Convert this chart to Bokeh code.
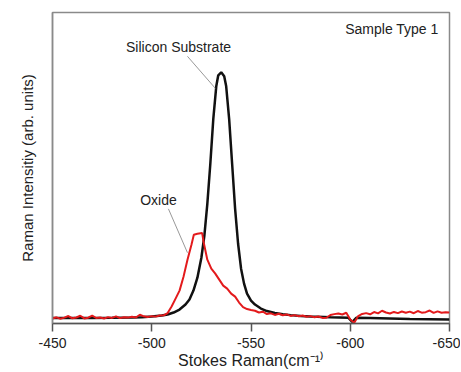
from bokeh.plotting import figure
from bokeh.models import Range1d, FixedTicker, Label
from bokeh.embed import file_html
from bokeh.resources import INLINE

# ---- data ----
si_x = [-450, -460, -470, -480, -490, -495, -500, -505, -508, -511, -514, -517, -519,
        -521, -523, -525, -526.5, -528, -529.5, -531, -532.5, -533.5, -535, -536.5,
        -537.5, -539, -540.5, -542, -543.5, -545, -546.5, -548, -550, -552, -555,
        -558, -562, -566, -570, -575, -580, -590, -599, -601, -603, -610, -620,
        -630, -640, -650]
si_y = [5.5, 5.5, 5.6, 5.7, 5.9, 6.3, 7.0, 8.0, 9.0, 11, 14, 19, 24,
        33, 46, 66, 88, 120, 160, 205, 238, 249, 252, 248,
        238, 205, 160, 115, 80, 55, 40, 30, 23, 19, 15,
        12.5, 10.5, 9.2, 8.4, 7.6, 7.0, 6.3, 5.8, 1.5, 5.7, 5.4, 5.0,
        4.6, 4.3, 4.0]

ox_x = [-450, -452, -454, -456, -458, -460, -462, -464, -466, -468,
        -470, -472, -474, -476, -478, -480, -482, -484, -486, -488,
        -490, -492, -494, -496, -498, -500, -502, -504, -506, -508,
        -510, -512, -514, -516, -518, -520, -521.2, -523, -525.4, -526.2,
        -528, -530, -532, -534, -536, -538, -540, -542, -544, -546,
        -548, -550, -552, -554, -556, -558, -560, -562, -564, -566,
        -568, -570, -572, -574, -576, -578, -580, -582, -584, -586,
        -588, -590, -592, -594, -596, -598, -600, -602, -604, -606,
        -608, -610, -612, -614, -616, -618, -620, -622, -624, -626,
        -628, -630, -632, -634, -636, -638, -640, -642, -644, -646,
        -648, -650]
ox_y = [5.0, 6.2, 4.8, 5.9, 7.5, 5.2, 6.0, 7.8, 5.1, 5.8,
        7.9, 5.5, 6.1, 5.0, 6.4, 5.6, 7.2, 5.4, 6.3, 5.9,
        6.8, 6.0, 8.8, 7.2, 6.5, 7.4, 6.9, 8.0, 8.2, 10.5,
        17, 25, 33, 47, 64, 79, 89, 90, 90.7, 81,
        64, 55, 50, 44, 38, 35, 30, 27, 21, 16.5,
        14.5, 13.5, 12.8, 11.0, 11.8, 9.5, 10.2, 8.6, 9.8, 8.3,
        9.1, 7.6, 8.4, 7.2, 8.0, 6.8, 7.4, 6.2, 7.0, 5.6,
        5.8, 8.5, 9.4, 10.1, 9.0, 10.8, 4.0, 0.8, 7.5, 9.6,
        10.4, 9.2, 11.5, 10.2, 12.8, 11.0, 10.0, 11.6, 10.4, 12.0,
        10.8, 11.9, 10.3, 12.5, 10.9, 11.4, 13.0, 10.6, 12.2, 10.8,
        11.2, 11.0]

x_ticks = [-450, -500, -550, -600, -650]
x_tick_labels = ["-450", "-500", "-550", "-600", "-650"]

FONT = "Liberation Sans"
TXT = "#222222"

p = figure(width=460, height=371, output_backend="svg", toolbar_location=None,
           x_range=Range1d(-450, -650), y_range=Range1d(0, 312),
           min_border_left=52, min_border_right=11, min_border_top=12,
           min_border_bottom=47)
p.grid.visible = False
p.outline_line_color = "#8a8a8a"
p.outline_line_width = 1.5

# x axis
xa = p.xaxis[0]
xa.ticker = FixedTicker(ticks=x_ticks)
xa.major_label_overrides = dict(zip(x_ticks, x_tick_labels))
xa.minor_tick_line_color = None
xa.major_tick_in = 0
xa.major_tick_out = 8
xa.major_tick_line_color = "#555555"
xa.major_tick_line_width = 1.5
xa.axis_line_color = "#555555"
xa.axis_line_width = 1.5
xa.major_label_text_font = FONT
xa.major_label_text_font_size = "14px"
xa.major_label_text_color = TXT
xa.major_label_standoff = 6
xa.axis_label = "Stokes Raman(cm\u207b\u00b9\u207e"
xa.axis_label_text_font = FONT
xa.axis_label_text_font_style = "normal"
xa.axis_label_text_font_size = "16px"
xa.axis_label_text_color = TXT
xa.axis_label_standoff = 1

# y axis
ya = p.yaxis[0]
ya.ticker = FixedTicker(ticks=[])
ya.minor_tick_line_color = None
ya.major_tick_in = 0
ya.major_tick_out = 0
ya.major_label_text_font_size = "0px"
ya.major_label_standoff = 0
ya.axis_line_color = "#8a8a8a"
ya.axis_line_width = 1.5
ya.axis_label = "Raman Intensitiy (arb. units)"
ya.axis_label_text_font = FONT
ya.axis_label_text_font_style = "normal"
ya.axis_label_text_font_size = "15px"
ya.axis_label_text_color = TXT
ya.axis_label_standoff = 17

p.line(si_x, si_y, line_color="#111111", line_width=2.5)
p.line(ox_x, ox_y, line_color="#e31a1c", line_width=2)

# leader lines
p.line([-518, -532], [268, 236], line_color="#999999", line_width=1)
p.line([-508.4, -518], [115, 71], line_color="#999999", line_width=1)

for txt, x, y, align in [("Sample Type 1", -644.5, 295, "right"),
                         ("Silicon Substrate", -513.5, 277, "center"),
                         ("Oxide", -503.4, 124, "center")]:
    p.add_layout(Label(x=x, y=y, text=txt, text_align=align, text_baseline="middle",
                       text_font=FONT, text_font_size="14px", text_color=TXT))

open("out.html", "w").write(file_html(p, INLINE))
